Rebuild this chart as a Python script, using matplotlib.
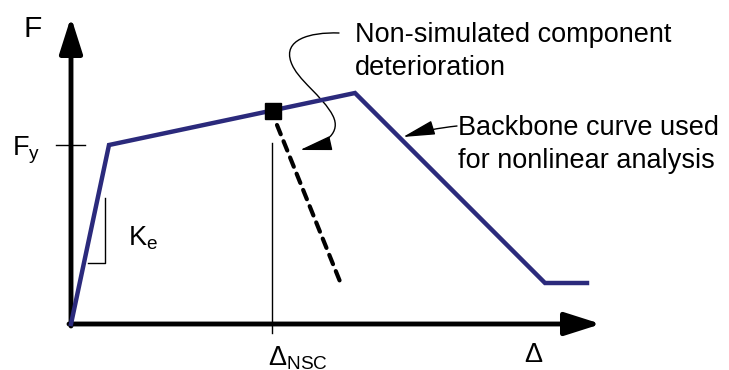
import matplotlib
matplotlib.use("Agg")
import matplotlib.pyplot as plt
from matplotlib.patches import FancyArrowPatch
from matplotlib.path import Path

plt.rcParams['font.family'] = ['Liberation Sans', 'DejaVu Sans']

# backbone curve (displacement, force), arbitrary units
disp = [0, 38, 284, 474, 516]
force = [0, 179, 231, 41, 41]
fy = 179
# non-simulated component deterioration point and its drop
nsc_disp, nsc_force = 202, 213
drop_disp, drop_force = 270, 40

navy = '#2b2a7c'

fig = plt.figure(figsize=(7.29, 3.70), dpi=100)
ax = fig.add_axes([0, 0, 1, 1])
ax.set_xlim(-71, 658)
ax.set_ylim(-46, 324)
ax.axis('off')

# axes with arrow heads
axis_arrow = dict(arrowstyle='-|>,head_length=2.2,head_width=0.7', lw=3.5,
                  color='k', shrinkA=0, shrinkB=0, mutation_scale=10)
ax.annotate('', xy=(0, 307), xytext=(0, -2), arrowprops=axis_arrow)
ax.annotate('', xy=(530, 0), xytext=(-2, 0), arrowprops=axis_arrow)

# backbone
ax.plot(disp, force, color=navy, lw=3.2, solid_joinstyle='miter', zorder=3)

# deterioration branch
ax.plot([nsc_disp + 4, drop_disp], [nsc_force - 14, drop_force], color='k', lw=3.0,
        ls=(0, (2.4, 1.8)), dash_capstyle='round', zorder=3)
ax.plot([nsc_disp], [nsc_force], marker='s', ms=12, color='k', zorder=4)
ax.plot([nsc_disp - 1, nsc_disp - 1], [181, -9], color='k', lw=1.0)

# Fy tick and stiffness marker
ax.plot([-15, 14], [fy, fy], color='k', lw=1.0)
ax.plot([17, 34, 34], [61, 61, 126], color='k', lw=1.0)

fs = 19.5
ax.text(-48, 287, 'F', fontsize=fs + 2, va='baseline')
ax.text(-59, 169, r'$\mathregular{F_y}$', fontsize=fs, va='baseline')
ax.text(57, 79, r'$\mathregular{K_e}$', fontsize=fs, va='baseline')
ax.text(197, -41, r'$\mathregular{\Delta_{NSC}}$', fontsize=fs, va='baseline')
ax.text(453, -38, r'$\mathregular{\Delta}$', fontsize=fs, va='baseline')

ax.text(284, 282, 'Non-simulated component', fontsize=fs, va='baseline')
ax.text(284, 249, 'deterioration', fontsize=fs, va='baseline')
ax.text(387, 189, 'Backbone curve used', fontsize=fs, va='baseline')
ax.text(387, 156, 'for nonlinear analysis', fontsize=fs, va='baseline')

# S-shaped leader to the deterioration branch
verts = [(268, 291), (238, 292), (212, 284), (220, 262),
         (226, 244), (252, 228), (262, 208),
         (270, 192), (256, 180), (229, 174)]
codes = [Path.MOVETO] + [Path.CURVE4] * 9
arrow_style = '-|>,head_length=2.0,head_width=0.45'
leader = FancyArrowPatch(path=Path(verts, codes), arrowstyle=arrow_style,
                         mutation_scale=10, lw=1.0, color='k')
ax.add_patch(leader)

# leader to the backbone
ax.annotate('', xy=(332, 187), xytext=(386, 198),
            arrowprops=dict(arrowstyle=arrow_style, mutation_scale=10,
                            lw=1.0, color='k', shrinkA=0, shrinkB=0,
                            connectionstyle='arc3,rad=0.05'))

fig.savefig('out.png', dpi=100)
